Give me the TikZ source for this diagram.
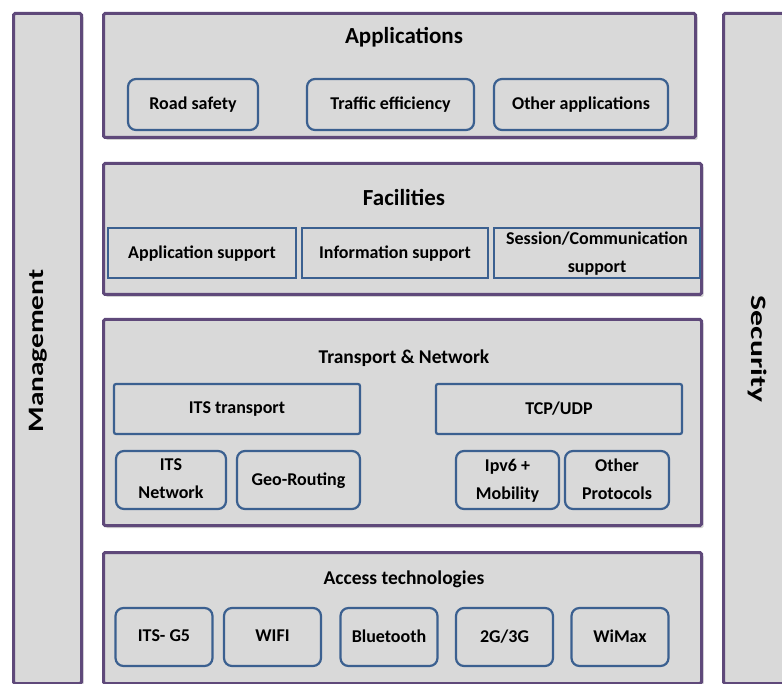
\documentclass[tikz,border=0pt]{standalone}
\usepackage{fontspec}
\setmainfont{Carlito}
\usetikzlibrary{shadows}
\definecolor{layerpurple}{HTML}{5F497A}
\definecolor{boxblue}{HTML}{3B6090}
\definecolor{panelgrey}{HTML}{D9D9D9}
\begin{document}
\begin{tikzpicture}[x=1pt,y=-1pt,
  layer/.style={draw=layerpurple,line width=3pt,fill=panelgrey,anchor=north west,inner sep=0pt,
    rounded corners=1.5pt,drop shadow={shadow xshift=2pt,shadow yshift=-2.5pt,opacity=.35}},
  unitbox/.style={draw=boxblue,line width=2.2pt,fill=panelgrey,inner sep=0pt,align=center,
    text depth=2pt,font=\bfseries\fontsize{18}{28}\selectfont},
  softbox/.style={unitbox,rounded corners=8pt},
  layertitle/.style={font=\bfseries\fontsize{23}{27}\selectfont},
  subtitle/.style={font=\bfseries\fontsize{19.5}{23}\selectfont},
  sidetitle/.style={font=\bfseries\fontsize{22}{26}\selectfont}]
\clip (0,0) rectangle (782,684);
\fill[white] (0,0) rectangle (782,684);
% side bars
\node[layer,minimum width=68pt,minimum height=670pt] (mgmt) at (12,12) {};
\node[layer,minimum width=68pt,minimum height=670pt] (sec) at (722,12) {};
\node[sidetitle,rotate=90,xscale=1.33] (mgmtlabel) at (38,351) {Management};
\node[sidetitle,rotate=-90,xscale=1.44] (seclabel) at (757,349) {Security};
% layers
\node[layer,minimum width=592pt,minimum height=124pt] (apps) at (102,12) {};
\node[layer,minimum width=598pt,minimum height=131pt] (fac) at (102,162) {};
\node[layer,minimum width=598pt,minimum height=206pt] (tn) at (102,318) {};
\node[layer,minimum width=598pt,minimum height=131pt] (acc) at (102,551) {};
\node[layertitle] (appstitle) at (404,37) {Applications};
\node[layertitle] (factitle) at (404,198) {Facilities};
\node[subtitle] (tntitle) at (404,358) {Transport \& Network};
\node[subtitle] (acctitle) at (404,579) {Access technologies};
% applications
\foreach \cx/\w/\nm/\txt in {193/130/road/Road safety,390.5/167/traffic/Traffic efficiency,581/174/otherapp/Other applications}
  \node[softbox,minimum width=\w pt,minimum height=51pt] (\nm) at (\cx,104.5) {\txt};
% facilities
\foreach \cx/\w/\nm/\txt in {202/188/appsup/Application support,395/186/infosup/Information support,597/206/sessup/{Session/Communication\\support}}
  \node[unitbox,minimum width=\w pt,minimum height=50pt] (\nm) at (\cx,253) {\txt};
% transport & network
\foreach \cx/\nm/\txt in {237/itstr/ITS transport,559/tcpudp/{TCP/UDP}}
  \node[unitbox,rounded corners=2pt,minimum width=246pt,minimum height=50pt] (\nm) at (\cx,409) {\txt};
\foreach \cx/\w/\nm/\txt in {171/110/itsnet/{ITS\\Network},298.5/123/georout/Geo-Routing,507.5/103/ipv6/{Ipv6 +\\Mobility},617/104/otherprot/{Other\\Protocols}}
  \node[softbox,minimum width=\w pt,minimum height=58pt] (\nm) at (\cx,480) {\txt};
% access technologies
\foreach \cx/\nm/\txt in {164/itsg5/ITS- G5,272.5/wifi/WIFI,389/bt/Bluetooth,504.5/cell/{2G/3G},620/wimax/WiMax}
  \node[softbox,minimum width=97pt,minimum height=58pt] (\nm) at (\cx,637) {\txt};
\end{tikzpicture}
\end{document}
